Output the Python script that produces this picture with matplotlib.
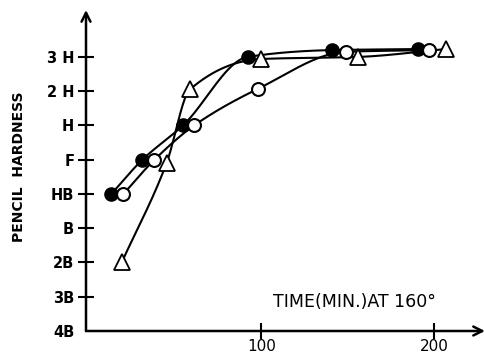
import numpy as np
import matplotlib
matplotlib.use("Agg")
import matplotlib.pyplot as plt

# Pencil hardness scale: 4B=0 ... 3H=8
grade_labels = ["4B", "3B", "2B", "B", "HB", "F", "H", "2 H", "3 H"]
grade_values = [0, 1, 2, 3, 4, 5, 6, 7, 8]

filled_time = [13, 31, 54.5, 92, 141, 191]
filled_hard = [4.0, 5.0, 6.0, 8.0, 8.2, 8.23]

open_time = [20, 38, 61, 98, 149, 197]
open_hard = [4.0, 5.0, 6.0, 7.07, 8.15, 8.2]

tri_time = [19, 45, 58.5, 100, 156, 207]
tri_hard = [2.0, 4.9, 7.05, 7.94, 8.0, 8.23]

x_ticks = [100, 200]
x_ticklabels = ["100", "200"]


def pchip(x, y, xn):
    x = np.asarray(x, float)
    y = np.asarray(y, float)
    h = np.diff(x)
    d = np.diff(y) / h
    n = len(x)
    m = np.zeros(n)
    for k in range(1, n - 1):
        if d[k - 1] * d[k] <= 0:
            m[k] = 0
        else:
            w1 = 2 * h[k] + h[k - 1]
            w2 = h[k] + 2 * h[k - 1]
            m[k] = (w1 + w2) / (w1 / d[k - 1] + w2 / d[k])
    m[0] = d[0]
    m[-1] = d[-1]
    out = np.empty_like(xn)
    for i, xv in enumerate(xn):
        k = min(max(np.searchsorted(x, xv) - 1, 0), n - 2)
        t = (xv - x[k]) / h[k]
        h00 = 2 * t**3 - 3 * t**2 + 1
        h10 = t**3 - 2 * t**2 + t
        h01 = -2 * t**3 + 3 * t**2
        h11 = t**3 - t**2
        out[i] = h00 * y[k] + h10 * h[k] * m[k] + h01 * y[k + 1] + h11 * h[k] * m[k + 1]
    return out


fig = plt.figure(figsize=(4.85, 3.55), dpi=100)
ax = fig.add_axes([86 / 485, 24 / 355, 399 / 485, 321 / 355])
ax.set_xlim(-1.7, 229.6)
ax.set_ylim(0, 9.37)

for xs, ys in [(filled_time, filled_hard), (open_time, open_hard), (tri_time, tri_hard)]:
    xn = np.linspace(xs[0], xs[-1], 300)
    ax.plot(xn, pchip(xs, ys, xn), color="black", lw=1.5, zorder=2, solid_capstyle="round")

ax.plot(filled_time, filled_hard, "o", ms=9.3, mfc="black", mec="black", mew=1.2, ls="none", zorder=3)
ax.plot(open_time, open_hard, "o", ms=9.3, mfc="white", mec="black", mew=1.5, ls="none", zorder=4)
ax.plot(tri_time, tri_hard, "^", ms=11, mfc="white", mec="black", mew=1.3, ls="none", zorder=4)

for s in ["top", "right", "left", "bottom"]:
    ax.spines[s].set_visible(False)

ax.annotate("", xy=(1.0, 0), xytext=(0, 0), xycoords="axes fraction",
            arrowprops=dict(arrowstyle="->", lw=1.8, color="black", mutation_scale=16, shrinkA=0, shrinkB=0))
ax.annotate("", xy=(0, 1.0), xytext=(0, 0), xycoords="axes fraction",
            arrowprops=dict(arrowstyle="->", lw=1.8, color="black", mutation_scale=16, shrinkA=0, shrinkB=0))

ax.set_yticks(grade_values)
ax.set_yticklabels(grade_labels, fontsize=10.5, fontweight="bold")
ax.set_xticks(x_ticks)
ax.set_xticklabels(x_ticklabels, fontsize=11)
ax.tick_params(axis="both", direction="inout", length=11, width=1.5, color="black")
ax.tick_params(axis="y", pad=3)
ax.tick_params(axis="x", pad=0)
ax.yaxis.get_major_ticks()[0].tick1line.set_visible(False)

fig.text(19 / 485, 1 - 167 / 355, "PENCIL  HARDNESS", rotation=90, ha="center", va="center",
         fontsize=10, fontweight="bold")
fig.text(354 / 485, 1 - 302 / 355, "TIME(MIN.)AT 160°", ha="center", va="center",
         fontsize=12.5)

fig.savefig("out.png", dpi=100)
